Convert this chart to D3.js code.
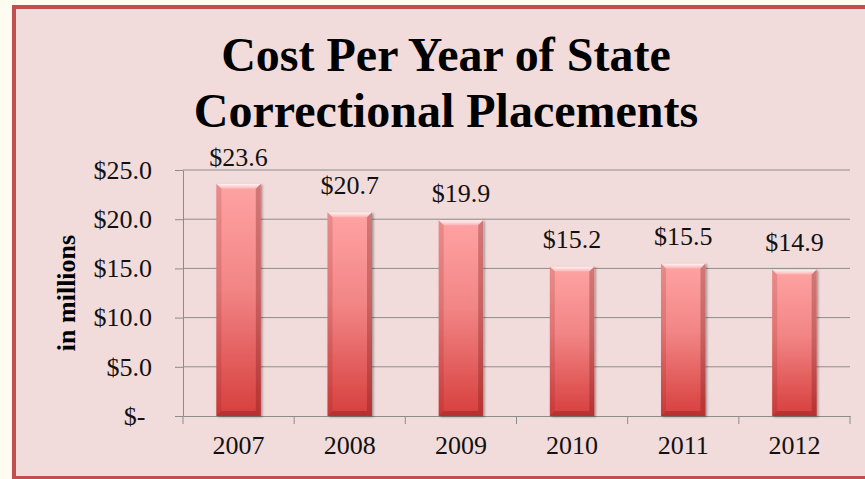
<!DOCTYPE html>
<html>
<head>
<meta charset="utf-8">
<script src="https://cdn.jsdelivr.net/npm/d3@7"></script>
<style>
  html, body { margin: 0; padding: 0; background: #fefbf0; }
  svg { display: block; }
  text { font-family: "Liberation Serif", "Times New Roman", serif; }
</style>
</head>
<body>
<svg width="865" height="479"></svg>
<script>
// chart data
const years = ["2007", "2008", "2009", "2010", "2011", "2012"];
const costs = [23.6, 20.7, 19.9, 15.2, 15.5, 14.9];
const costLabels = ["$23.6", "$20.7", "$19.9", "$15.2", "$15.5", "$14.9"];
const yTicks = [0, 5, 10, 15, 20, 25];
const yTickLabels = ["$-\u00a0", "$5.0", "$10.0", "$15.0", "$20.0", "$25.0"];
const titleLines = ["Cost Per Year of State", "Correctional Placements"];
const yTitle = "in millions";

const svg = d3.select('svg');

// frame
svg.append('rect')
    .attr('x', 14).attr('y', 7)
    .attr('width', 870).attr('height', 471)
    .attr('fill', '#f2dcdb')
    .attr('stroke', '#c0504d')
    .attr('stroke-width', 4);

// gradients + shadow
const defs = svg.append('defs');
const grad = defs.append('linearGradient')
    .attr('id', 'barFill').attr('x1', 0).attr('y1', 0).attr('x2', 0).attr('y2', 1);
grad.append('stop').attr('offset', '0%').attr('stop-color', '#ffa3a3');
grad.append('stop').attr('offset', '45%').attr('stop-color', '#f28585');
grad.append('stop').attr('offset', '100%').attr('stop-color', '#d63f3d');

const hi = defs.append('linearGradient')
    .attr('id', 'topHi').attr('x1', 0).attr('y1', 0).attr('x2', 0).attr('y2', 1);
hi.append('stop').attr('offset', '0%').attr('stop-color', '#ffffff').attr('stop-opacity', 0.9);
hi.append('stop').attr('offset', '100%').attr('stop-color', '#ffffff').attr('stop-opacity', 0.2);

const shadow = defs.append('filter').attr('id', 'shadow')
    .attr('x', '-20%').attr('y', '-10%').attr('width', '140%').attr('height', '120%');
shadow.append('feDropShadow')
    .attr('dx', 1.5).attr('dy', 1).attr('stdDeviation', 1.2)
    .attr('flood-color', '#000').attr('flood-opacity', 0.35);

// scales
const x = d3.scaleBand()
    .domain(years)
    .range([183, 850])
    .paddingInner(0.6)
    .paddingOuter(0.3);

const y = d3.scaleLinear()
    .domain([0, 25])
    .range([416, 170]);

// title
svg.append('text')
    .attr('x', 446)
    .attr('text-anchor', 'middle')
    .style('font-weight', 'bold')
    .style('font-size', '48px')
    .style('fill', '#000')
    .selectAll('tspan')
    .data(titleLines)
    .join('tspan')
    .attr('x', 446)
    .attr('y', (d, i) => 71 + i * 56)
    .text(d => d);

// gridlines
svg.append('g')
    .selectAll('line')
    .data(yTicks.filter(d => d > 0))
    .join('line')
    .attr('x1', 183).attr('x2', 850)
    .attr('y1', d => y(d)).attr('y2', d => y(d))
    .attr('stroke', '#8c8c8c')
    .attr('stroke-width', 1);

// y axis
const yAxis = svg.append('g')
    .attr('transform', 'translate(183,0)')
    .call(d3.axisLeft(y)
        .tickValues(yTicks)
        .tickFormat((d, i) => yTickLabels[i])
        .tickSizeInner(8)
        .tickSizeOuter(0)
        .tickPadding(23));
yAxis.select('.domain').attr('stroke', '#8c8c8c');
yAxis.selectAll('.tick line').attr('stroke', '#8c8c8c');
yAxis.selectAll('.tick text')
    .style('font-size', '26px')
    .style('font-family', '"Liberation Serif", "Times New Roman", serif')
    .attr('fill', '#111');

// x axis
const xAxis = svg.append('g')
    .attr('transform', 'translate(0,416)')
    .call(d3.axisBottom(x).tickSize(0).tickPadding(20));
xAxis.select('.domain').attr('stroke', '#8c8c8c');
xAxis.selectAll('.tick text')
    .style('font-size', '26px')
    .style('font-family', '"Liberation Serif", "Times New Roman", serif')
    .attr('fill', '#111');

// category boundary ticks
svg.append('g')
    .selectAll('line')
    .data(d3.range(years.length + 1))
    .join('line')
    .attr('x1', i => x.range()[0] + i * x.step())
    .attr('x2', i => x.range()[0] + i * x.step())
    .attr('y1', 416).attr('y2', 424)
    .attr('stroke', '#8c8c8c');

// bars
const b = 5; // bevel size
const bars = svg.append('g')
    .selectAll('g')
    .data(years.map((yr, i) => ({ yr, v: costs[i], label: costLabels[i] })))
    .join('g');

bars.append('rect')
    .attr('x', d => x(d.yr))
    .attr('y', d => y(d.v))
    .attr('width', x.bandwidth())
    .attr('height', d => y(0) - y(d.v))
    .attr('fill', 'url(#barFill)')
    .attr('filter', 'url(#shadow)');

// bevel: top highlight
bars.append('polygon')
    .attr('points', d => {
        const x0 = x(d.yr), x1 = x0 + x.bandwidth(), t = y(d.v);
        return [[x0, t], [x1, t], [x1 - b, t + b], [x0 + b, t + b]].join(' ');
    })
    .attr('fill', 'url(#topHi)');

// bevel: left side
bars.append('polygon')
    .attr('points', d => {
        const x0 = x(d.yr), t = y(d.v), bt = y(0);
        return [[x0, t], [x0 + b, t + b], [x0 + b, bt - b], [x0, bt]].join(' ');
    })
    .attr('fill', '#8a1e1e').attr('fill-opacity', 0.18);

// bevel: right side
bars.append('polygon')
    .attr('points', d => {
        const x1 = x(d.yr) + x.bandwidth(), t = y(d.v), bt = y(0);
        return [[x1, t], [x1 - b, t + b], [x1 - b, bt - b], [x1, bt]].join(' ');
    })
    .attr('fill', '#6e1414').attr('fill-opacity', 0.3);

// bevel: bottom
bars.append('polygon')
    .attr('points', d => {
        const x0 = x(d.yr), x1 = x0 + x.bandwidth(), bt = y(0);
        return [[x0, bt], [x1, bt], [x1 - b, bt - b], [x0 + b, bt - b]].join(' ');
    })
    .attr('fill', '#6e1414').attr('fill-opacity', 0.3);

// value labels
bars.append('text')
    .attr('x', d => x(d.yr) + x.bandwidth() / 2)
    .attr('y', d => y(d.v) - 18)
    .attr('text-anchor', 'middle')
    .style('font-size', '26px')
    .style('fill', '#111')
    .text(d => d.label);

// y axis title
svg.append('text')
    .attr('transform', 'translate(75,293) rotate(-90)')
    .attr('text-anchor', 'middle')
    .style('font-weight', 'bold')
    .style('font-size', '26px')
    .style('fill', '#000')
    .text(yTitle);
</script>
</body>
</html>
